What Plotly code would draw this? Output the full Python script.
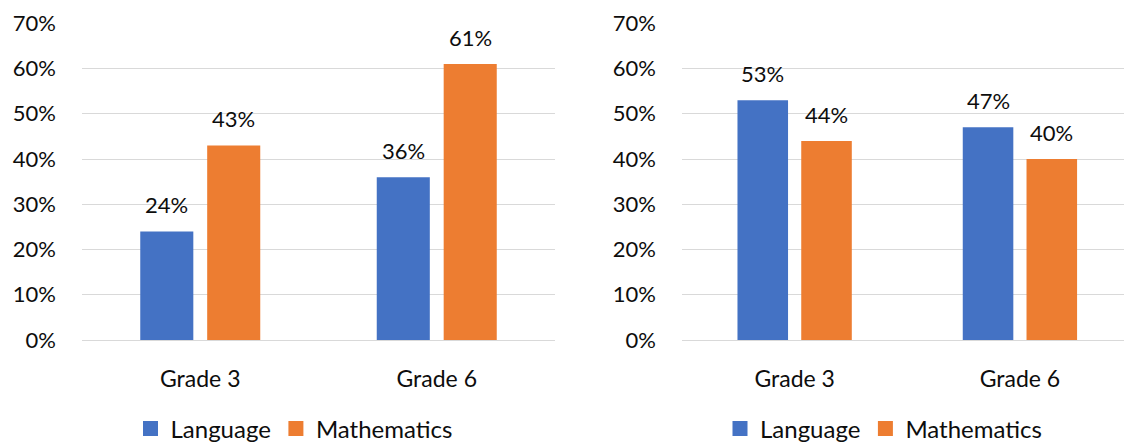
import plotly.graph_objects as go

categories = ["Grade 3", "Grade 6"]
left_language = [0.24, 0.36]
left_math = [0.43, 0.61]
right_language = [0.53, 0.47]
right_math = [0.44, 0.40]
series_names = ["Language", "Mathematics"]
y_ticks = [0, 0.1, 0.2, 0.3, 0.4, 0.5, 0.6, 0.7]

BLUE = "#4472C4"
ORANGE = "#ED7D31"
FONT = "Lato"
TXT = "#0d0d0d"
FS_Y = 22
FS_X = 23
FS_LBL = 22
LEG_FS = 24
BARGAP = 0.434
BARGROUPGAP = 0.207

fig = go.Figure()
annotations = []

def add_bar(y, name, color, xa, ya, slot):
    fig.add_trace(go.Bar(
        x=categories, y=y, name=name,
        marker=dict(color=color, line=dict(width=0)),
        xaxis=xa, yaxis=ya, showlegend=False, hoverinfo="skip",
    ))
    # data labels above each bar, centred on the bar's slot in the group
    off = (1 - BARGAP) / 4 * slot
    for i, v in enumerate(y):
        annotations.append(dict(
            x=i + off, y=v, xref=xa, yref=ya, text=f"{v:.0%}",
            showarrow=False, yanchor="bottom", xanchor="center", yshift=11,
            font=dict(family=FONT, size=FS_LBL, color=TXT),
        ))

def add_legend_entry(name, color, xa, ya, legend):
    fig.add_trace(go.Scatter(
        x=[None], y=[None], name=name, mode="markers",
        marker=dict(symbol="square", size=15, color=color),
        xaxis=xa, yaxis=ya, legend=legend, showlegend=True, hoverinfo="skip",
    ))

add_bar(left_language, series_names[0], BLUE, "x", "y", -1)
add_bar(left_math, series_names[1], ORANGE, "x", "y", 1)
add_bar(right_language, series_names[0], BLUE, "x2", "y2", -1)
add_bar(right_math, series_names[1], ORANGE, "x2", "y2", 1)
add_legend_entry(series_names[0], BLUE, "x", "y", "legend")
add_legend_entry(series_names[1], ORANGE, "x", "y", "legend")
add_legend_entry(series_names[0], BLUE, "x2", "y2", "legend2")
add_legend_entry(series_names[1], ORANGE, "x2", "y2", "legend2")

W, H = 1124, 443
ydom = [103 / H, (H - 23.3) / H]

yax = dict(range=[0, 0.7], tickvals=y_ticks, tickformat=".0%",
           showgrid=True, gridcolor="#D9D9D9", gridwidth=1.3,
           zeroline=False, showline=False, ticks="",
           tickfont=dict(family=FONT, size=FS_Y, color=TXT),
           ticklabelstandoff=25, domain=ydom, fixedrange=True)
xax = dict(showgrid=False, showline=True, linecolor="#D9D9D9", linewidth=1.3,
           ticks="", tickfont=dict(family=FONT, size=FS_X, color=TXT),
           ticklabelstandoff=18, fixedrange=True)

legend_common = dict(orientation="h", xanchor="center", yanchor="middle",
                     font=dict(family=FONT, size=LEG_FS, color=TXT),
                     bgcolor="rgba(0,0,0,0)", itemsizing="trace",
                     itemclick=False, itemdoubleclick=False)

fig.update_layout(
    width=W, height=H, margin=dict(l=0, r=0, t=0, b=0, autoexpand=False),
    paper_bgcolor="white", plot_bgcolor="white",
    barmode="group", bargap=BARGAP, bargroupgap=BARGROUPGAP,
    showlegend=True,
    xaxis=dict(**xax, domain=[82 / W, 555 / W], range=[-0.5, 1.5], anchor="y"),
    yaxis=dict(**yax, anchor="x"),
    xaxis2=dict(**xax, domain=[682 / W, 1.0], range=[-0.5, 1.462], anchor="y2"),
    yaxis2=dict(**yax, anchor="x2"),
    legend=dict(**legend_common, x=294 / W, y=14 / H),
    legend2=dict(**legend_common, x=883.5 / W, y=14 / H),
    annotations=annotations,
    font=dict(family=FONT, size=FS_Y, color=TXT),
)

fig.write_html("out.html")
